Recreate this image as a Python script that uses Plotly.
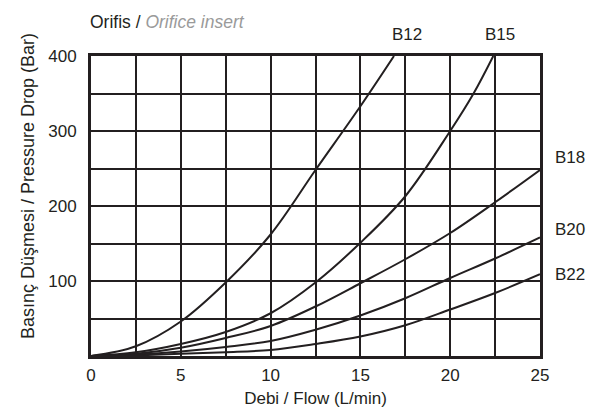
import plotly.graph_objects as go

# flow grid shared by the lower curves (L/min)
flow = [0, 2.5, 5, 7.5, 10, 12.5, 15, 17.5, 20, 22.5, 25]

# B12 and B15 leave the chart at 400 bar, so they get their own x values
b12_flow = [0, 2.5, 5, 7.5, 10, 12.5, 15, 16.87]
b12_dp = [0, 13, 46, 98, 162, 248, 333, 400]

b15_flow = [0, 2.5, 5, 7.5, 10, 12.5, 15, 17.5, 20, 21.3, 22.4]
b15_dp = [0, 5, 16, 32, 57, 98, 151, 213, 300, 350, 400]

b18_dp = [0, 3, 11, 24, 40, 66, 97, 129, 164, 205, 248]
b20_dp = [0, 2, 6, 12, 20, 35, 54, 77, 104, 130, 158]
b22_dp = [0, 1, 3, 5, 8, 16, 26, 41, 62, 84, 109]

x_ticks = [0, 5, 10, 15, 20, 25]
y_ticks = [100, 200, 300, 400]

# label name, x, y (data units)
labels = [("B12", 17.58, 428), ("B15", 22.77, 428),
          ("B18", 26.67, 265), ("B20", 26.67, 169), ("B22", 26.67, 109)]

INK = "#231f20"
FONT = "Liberation Sans, Arial, sans-serif"
X_RANGE = [0, 25]
Y_RANGE = [0, 400]

fig = go.Figure()

for name, xs, ys in [("B12", b12_flow, b12_dp), ("B15", b15_flow, b15_dp),
                     ("B18", flow, b18_dp), ("B20", flow, b20_dp),
                     ("B22", flow, b22_dp)]:
    fig.add_trace(go.Scatter(
        x=xs, y=ys, mode="lines", name=name,
        line=dict(color=INK, width=2, shape="spline", smoothing=1.0),
        hovertemplate=name + "<br>%{x} L/min<br>%{y} bar<extra></extra>",
    ))

W, H = 592, 417
L, R, T, B = 91, 52, 56, 61

def px_to_paper(px, py):
    return (px - L) / (W - L - R), 1 - (py - T) / (H - T - B)

# curve labels sit outside the axes range, so place them in paper coords
for text, lx, ly in labels:
    fig.add_annotation(
        x=(lx - X_RANGE[0]) / (X_RANGE[1] - X_RANGE[0]),
        y=(ly - Y_RANGE[0]) / (Y_RANGE[1] - Y_RANGE[0]),
        xref="paper", yref="paper", text=text, showarrow=False,
        xanchor="center", yanchor="middle",
        font=dict(size=17, color=INK, family=FONT))

tx, ty = px_to_paper(88, 22)
fig.add_annotation(
    x=tx, y=ty, xref="paper", yref="paper",
    text="Orifis / <i><span style='color:#9a9a9a'>Orifice insert</span></i>",
    showarrow=False, xanchor="left", yanchor="middle",
    font=dict(size=17.5, color=INK, family=FONT),
)
ax, ay = px_to_paper(28, 186)
fig.add_annotation(
    x=ax, y=ay, xref="paper", yref="paper", text="Basınç Düşmesi / Pressure Drop (Bar)",
    showarrow=False, textangle=-90, xanchor="center", yanchor="middle",
    font=dict(size=18, color=INK, family=FONT),
)

fig.update_layout(
    width=W, height=H,
    margin=dict(l=L, r=R, t=T, b=B),
    paper_bgcolor="white", plot_bgcolor="white",
    showlegend=False,
    font=dict(family=FONT, size=17, color=INK),
    xaxis=dict(
        range=X_RANGE, tickvals=x_ticks, ticks="", ticklen=0,
        showgrid=True, gridcolor=INK, gridwidth=2,
        minor=dict(dtick=2.5, showgrid=True, gridcolor=INK, gridwidth=2),
        showline=True, linecolor=INK, linewidth=3, mirror=True,
        zeroline=False, fixedrange=True, ticklabelstandoff=2,
        title=dict(text="Debi / Flow (L/min)", standoff=8, font=dict(size=17)),
        tickfont=dict(size=17),
    ),
    yaxis=dict(
        range=Y_RANGE, tickvals=y_ticks, ticks="", ticklen=0,
        showgrid=True, gridcolor=INK, gridwidth=2,
        minor=dict(dtick=50, showgrid=True, gridcolor=INK, gridwidth=2),
        showline=True, linecolor=INK, linewidth=3, mirror=True,
        zeroline=False, fixedrange=True, ticklabelstandoff=8,
        tickfont=dict(size=17),
    ),
)

fig.write_html("out.html", config={"displayModeBar": False},
               post_script="document.body.style.margin='0';")
